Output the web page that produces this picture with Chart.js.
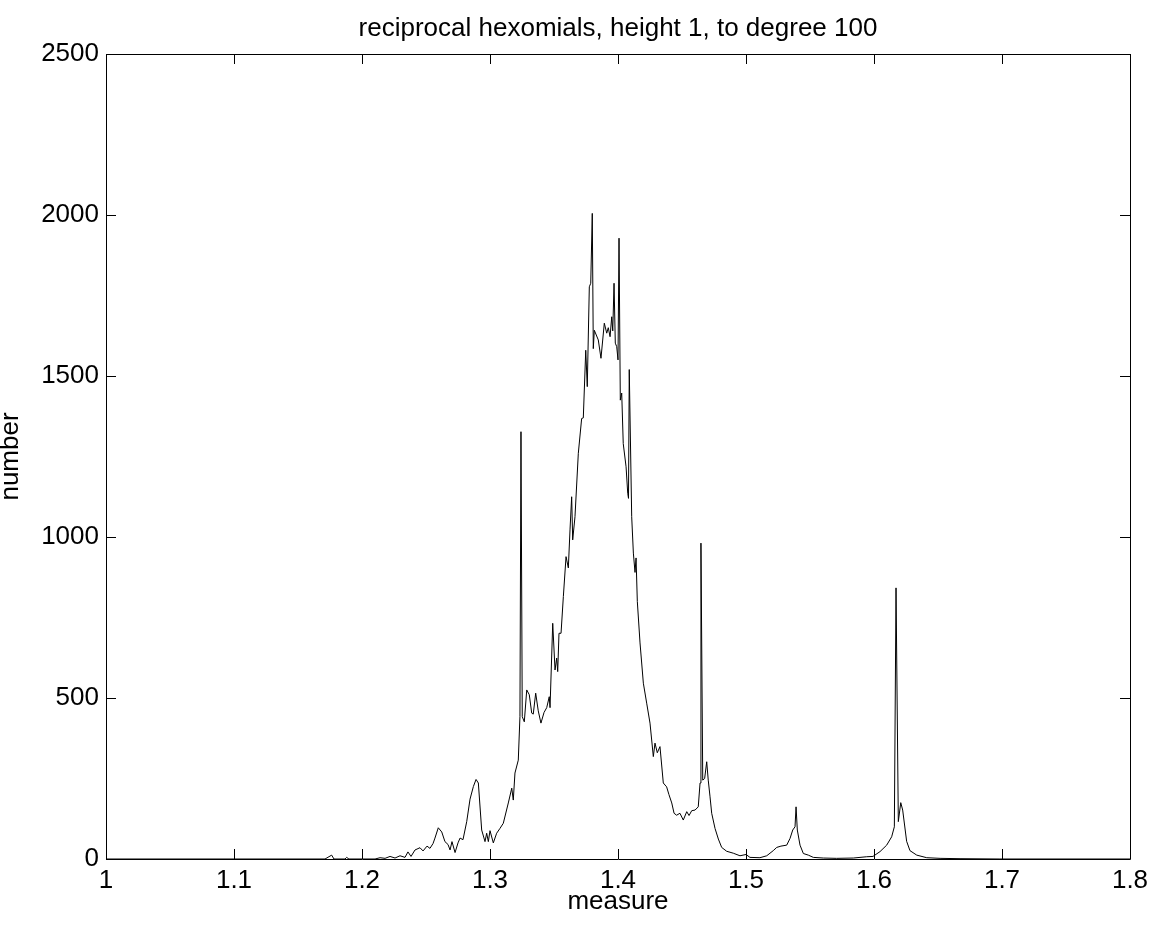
<!DOCTYPE html>
<html>
<head>
<meta charset="utf-8">
<script src="https://cdn.jsdelivr.net/npm/chart.js@4/dist/chart.umd.min.js"></script>
<style>
body { margin: 0; background: #fff; }
</style>
</head>
<body>
<canvas id="chart" width="1160" height="928"></canvas>
<script>
// values
const measure = [
  1.0, 1.1711, 1.1763, 1.1781, 1.1867, 1.1880, 1.1898, 1.2102, 1.2141, 1.2180,
  1.2219, 1.2258, 1.2297, 1.2336, 1.2359, 1.2383, 1.2414, 1.2453, 1.2477, 1.2508,
  1.2531, 1.2555, 1.2570, 1.2596, 1.2623, 1.2648, 1.2672, 1.2688, 1.2703, 1.2727,
  1.2750, 1.2766, 1.2789, 1.2818, 1.2844, 1.2870, 1.2891, 1.2909, 1.2935, 1.2961,
  1.2974, 1.2987, 1.3, 1.3026, 1.3052, 1.3078, 1.3104, 1.3143, 1.3170, 1.3182,
  1.3195, 1.3221, 1.3234, 1.3242, 1.3252, 1.3268, 1.3287, 1.3307, 1.3326, 1.3338,
  1.3357, 1.3377, 1.3398, 1.3422, 1.3443, 1.3463, 1.3469, 1.3490, 1.3508, 1.3521,
  1.3529, 1.3539, 1.3555, 1.3573, 1.3594, 1.3612, 1.3625, 1.3638, 1.3646, 1.3664,
  1.3690, 1.3716, 1.3729, 1.3748, 1.3760, 1.3776, 1.3787, 1.3799, 1.3807, 1.3815,
  1.3846, 1.3867, 1.3893, 1.3912, 1.3924, 1.3938, 1.3951, 1.3959, 1.3969, 1.3979,
  1.3990, 1.4, 1.4008, 1.4018, 1.4029, 1.4041, 1.4063, 1.4076, 1.4082, 1.4088,
  1.4107, 1.4120, 1.4133, 1.4141, 1.4151, 1.4172, 1.4198, 1.4224, 1.425, 1.4276,
  1.4289, 1.4307, 1.4328, 1.4354, 1.4380, 1.4398, 1.4420, 1.4438, 1.4458, 1.4484,
  1.4510, 1.4537, 1.4555, 1.4576, 1.4602, 1.4627, 1.4641, 1.4648, 1.4662, 1.4677,
  1.4693, 1.4705, 1.4719, 1.4732, 1.4758, 1.4784, 1.4810, 1.4849, 1.4901, 1.4953,
  1.5, 1.5031, 1.5109, 1.5162, 1.5213, 1.5240, 1.5273, 1.5318, 1.5344, 1.5365,
  1.5383, 1.5391, 1.5401, 1.5422, 1.5448, 1.5487, 1.5526, 1.5604, 1.5708, 1.5838,
  1.5943, 1.5992, 1.6047, 1.6099, 1.6138, 1.6159, 1.6172, 1.6190, 1.6209, 1.6224,
  1.6255, 1.6281, 1.6334, 1.6412, 1.6516, 1.6672, 1.6984, 1.8
];
const number = [
  0, 0, 12, 0, 0, 5, 0, 0, 4, 2,
  8, 3, 10, 5, 22, 8, 28, 35, 25, 40,
  33, 48, 65, 97, 84, 54, 45, 28, 54, 20,
  50, 65, 60, 116, 186, 225, 247, 236, 90, 54,
  80, 54, 88, 50, 80, 95, 111, 174, 220, 183,
  267, 307, 442, 1327, 442, 426, 525, 510, 453, 450,
  515, 460, 422, 455, 470, 504, 470, 732, 587, 624,
  582, 701, 701, 815, 939, 904, 1022, 1125, 991, 1063,
  1260, 1368, 1370, 1580, 1467, 1777, 1788, 2005, 1585, 1642,
  1612, 1555, 1664, 1633, 1650, 1622, 1684, 1640, 1788, 1602,
  1591, 1550, 1928, 1425, 1447, 1290, 1218, 1136, 1120, 1520,
  1063, 950, 890, 935, 800, 671, 546, 484, 422, 318,
  360, 330, 349, 236, 224, 200, 174, 142, 136, 142,
  121, 147, 135, 150, 152, 162, 236, 981, 245, 250,
  302, 245, 193, 142, 95, 62, 36, 24, 18, 10,
  14, 5, 4, 10, 26, 36, 40, 43, 64, 90,
  100, 162, 90, 43, 17, 12, 5, 3, 2, 3,
  7, 8, 23, 43, 69, 100, 842, 116, 175, 152,
  55, 26, 12, 4, 2, 1, 0, 0
];
const xTicks = [1, 1.1, 1.2, 1.3, 1.4, 1.5, 1.6, 1.7, 1.8];
const yTicks = [0, 500, 1000, 1500, 2000, 2500];
const titleText = 'reciprocal hexomials, height 1, to degree 100';

const FONT = 'Liberation Sans, Arial, Helvetica, sans-serif';

// Matlab style box with inward ticks on all four sides + title
const framePlugin = {
  id: 'frame',
  afterDraw(chart) {
    const ctx = chart.ctx;
    const a = chart.chartArea;
    const xs = chart.scales.x, ys = chart.scales.y;
    const tl = 10;
    ctx.save();
    ctx.strokeStyle = '#000';
    ctx.lineWidth = 1;
    ctx.beginPath();
    ctx.rect(Math.round(a.left) + 0.5, Math.round(a.top) + 0.5,
             Math.round(a.right - a.left), Math.round(a.bottom - a.top));
    xs.ticks.forEach(t => {
      const px = Math.round(xs.getPixelForValue(t.value)) + 0.5;
      ctx.moveTo(px, a.bottom); ctx.lineTo(px, a.bottom - tl);
      ctx.moveTo(px, a.top); ctx.lineTo(px, a.top + tl);
    });
    ys.ticks.forEach(t => {
      const py = Math.round(ys.getPixelForValue(t.value)) + 0.5;
      ctx.moveTo(a.left, py); ctx.lineTo(a.left + tl, py);
      ctx.moveTo(a.right, py); ctx.lineTo(a.right - tl, py);
    });
    ctx.stroke();

    ctx.fillStyle = '#000';
    ctx.font = '26px ' + FONT;
    ctx.textAlign = 'center';
    ctx.textBaseline = 'alphabetic';
    ctx.fillText(titleText, (a.left + a.right) / 2, 36);
    ctx.restore();
  }
};

new Chart(document.getElementById('chart'), {
  type: 'scatter',
  data: {
    datasets: [{
      data: measure.map((m, i) => ({ x: m, y: number[i] })),
      showLine: true,
      borderColor: '#000',
      borderWidth: 1,
      pointRadius: 0,
      tension: 0
    }]
  },
  options: {
    responsive: false,
    animation: false,
    layout: { padding: { top: 54, right: 30, left: 0, bottom: 0 } },
    plugins: { legend: { display: false }, tooltip: { enabled: false } },
    scales: {
      x: {
        type: 'linear',
        min: 1, max: 1.8,
        grid: { display: false, drawTicks: false },
        border: { display: false },
        afterBuildTicks: s => { s.ticks = xTicks.map(v => ({ value: v })); },
        afterFit: s => { s.height = 69; },
        ticks: {
          color: '#000',
          padding: 6,
          maxRotation: 0,
          autoSkip: false,
          font: { family: FONT, size: 26 },
          callback: v => String(v)
        },
        title: {
          display: true, text: 'measure', color: '#000',
          font: { family: FONT, size: 26, lineHeight: 0.8 },
          padding: { top: 0, bottom: 16 }
        }
      },
      y: {
        type: 'linear',
        min: 0, max: 2500,
        grid: { display: false, drawTicks: false },
        border: { display: false },
        afterBuildTicks: s => { s.ticks = yTicks.map(v => ({ value: v })); },
        afterFit: s => { s.width = 106; },
        ticks: {
          color: '#000',
          padding: 7,
          autoSkip: false,
          font: { family: FONT, size: 26 },
          callback: v => String(v)
        },
        title: {
          display: true, text: 'number', color: '#000',
          font: { family: FONT, size: 26, lineHeight: 0.8 },
          padding: { top: 0, bottom: 0 }
        }
      }
    }
  },
  plugins: [framePlugin]
});
</script>
</body>
</html>
